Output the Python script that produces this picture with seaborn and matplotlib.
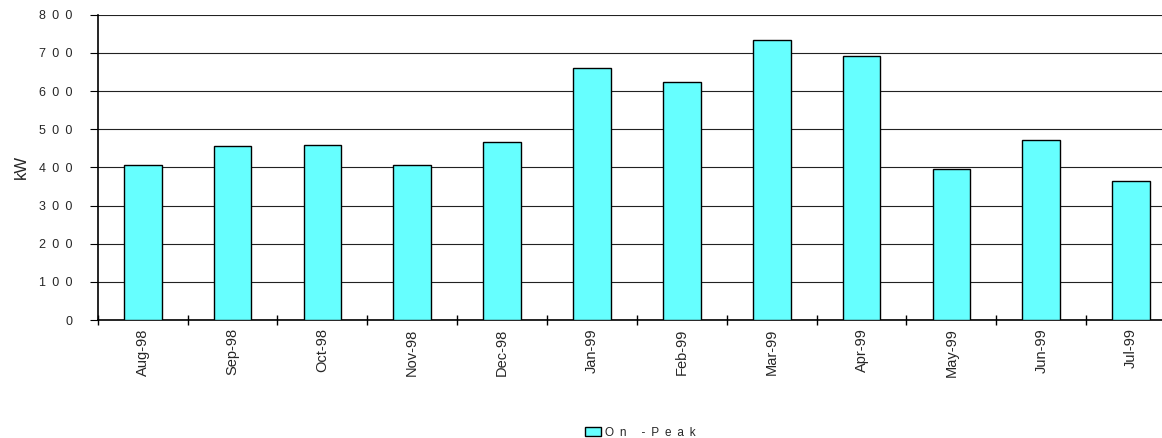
import matplotlib
matplotlib.use("Agg")
import matplotlib.pyplot as plt
import numpy as np
import pandas as pd
import seaborn as sns

months = ["Aug-98", "Sep-98", "Oct-98", "Nov-98", "Dec-98", "Jan-99",
          "Feb-99", "Mar-99", "Apr-99", "May-99", "Jun-99", "Jul-99"]
on_peak_kw = [405, 457, 458, 405, 467, 661, 624, 734, 693, 397, 473, 364]
series_name = "On -Peak"
y_ticks = [0, 100, 200, 300, 400, 500, 600, 700, 800]

SPACED = "\u2002"  # letter spacing used for the tick and legend text


def spaced(s):
    return SPACED.join(s)


sns.set_theme(style="white")
plt.rcParams["font.family"] = ["Liberation Sans", "DejaVu Sans"]

df = pd.DataFrame({"month": months, "kW": on_peak_kw,
                   "series": spaced(series_name)})

fig = plt.figure(figsize=(11.62, 4.38), dpi=100)
ax = fig.add_axes([0.0841, 0.2694, 0.928, 0.697])

sns.barplot(data=df, x="month", y="kW", hue="series",
            palette=["#66FFFF"], saturation=1, edgecolor="black",
            linewidth=1.0, width=0.42, ax=ax, legend=True, zorder=3)

ax.set_ylim(0, 800)
ax.set_xlim(-0.5, len(months) - 0.5)
ax.set_yticks(y_ticks)
ax.set_yticklabels([spaced(str(v)) for v in y_ticks], fontsize=9)
ax.yaxis.grid(True, color="#222222", linewidth=0.8, zorder=0)
ax.xaxis.grid(False)
ax.set_axisbelow(True)

# category labels at centres, tick marks at category boundaries
ax.set_xticks(np.arange(len(months)))
ax.set_xticklabels(months, rotation=90, fontsize=10.5)
ax.set_xticks(np.arange(len(months) + 1) - 0.5, minor=True)
ax.tick_params(axis="x", which="major", length=0, pad=6)
ax.tick_params(axis="x", which="minor", length=7, direction="inout",
               width=1.0, color="black", bottom=True)
ax.tick_params(axis="y", which="major", length=6, direction="out",
               width=0.8, color="black", left=True, pad=12)

for side in ("top", "right"):
    ax.spines[side].set_visible(False)
for side in ("left", "bottom"):
    ax.spines[side].set_color("black")
    ax.spines[side].set_linewidth(1.2)

ax.set_xlabel("")
ax.set_ylabel("kW", fontsize=12)
ax.yaxis.set_label_coords(-0.064, 0.5)

leg = ax.legend(loc="center", bbox_to_anchor=(0.551, 0.012),
                bbox_transform=fig.transFigure, frameon=False,
                fontsize=8.5, handlelength=1.35, handleheight=0.8,
                handletextpad=0.3, borderpad=0)
for h in leg.legend_handles:
    h.set_edgecolor("black")
    h.set_linewidth(1.0)

fig.savefig("out.png", dpi=100)
